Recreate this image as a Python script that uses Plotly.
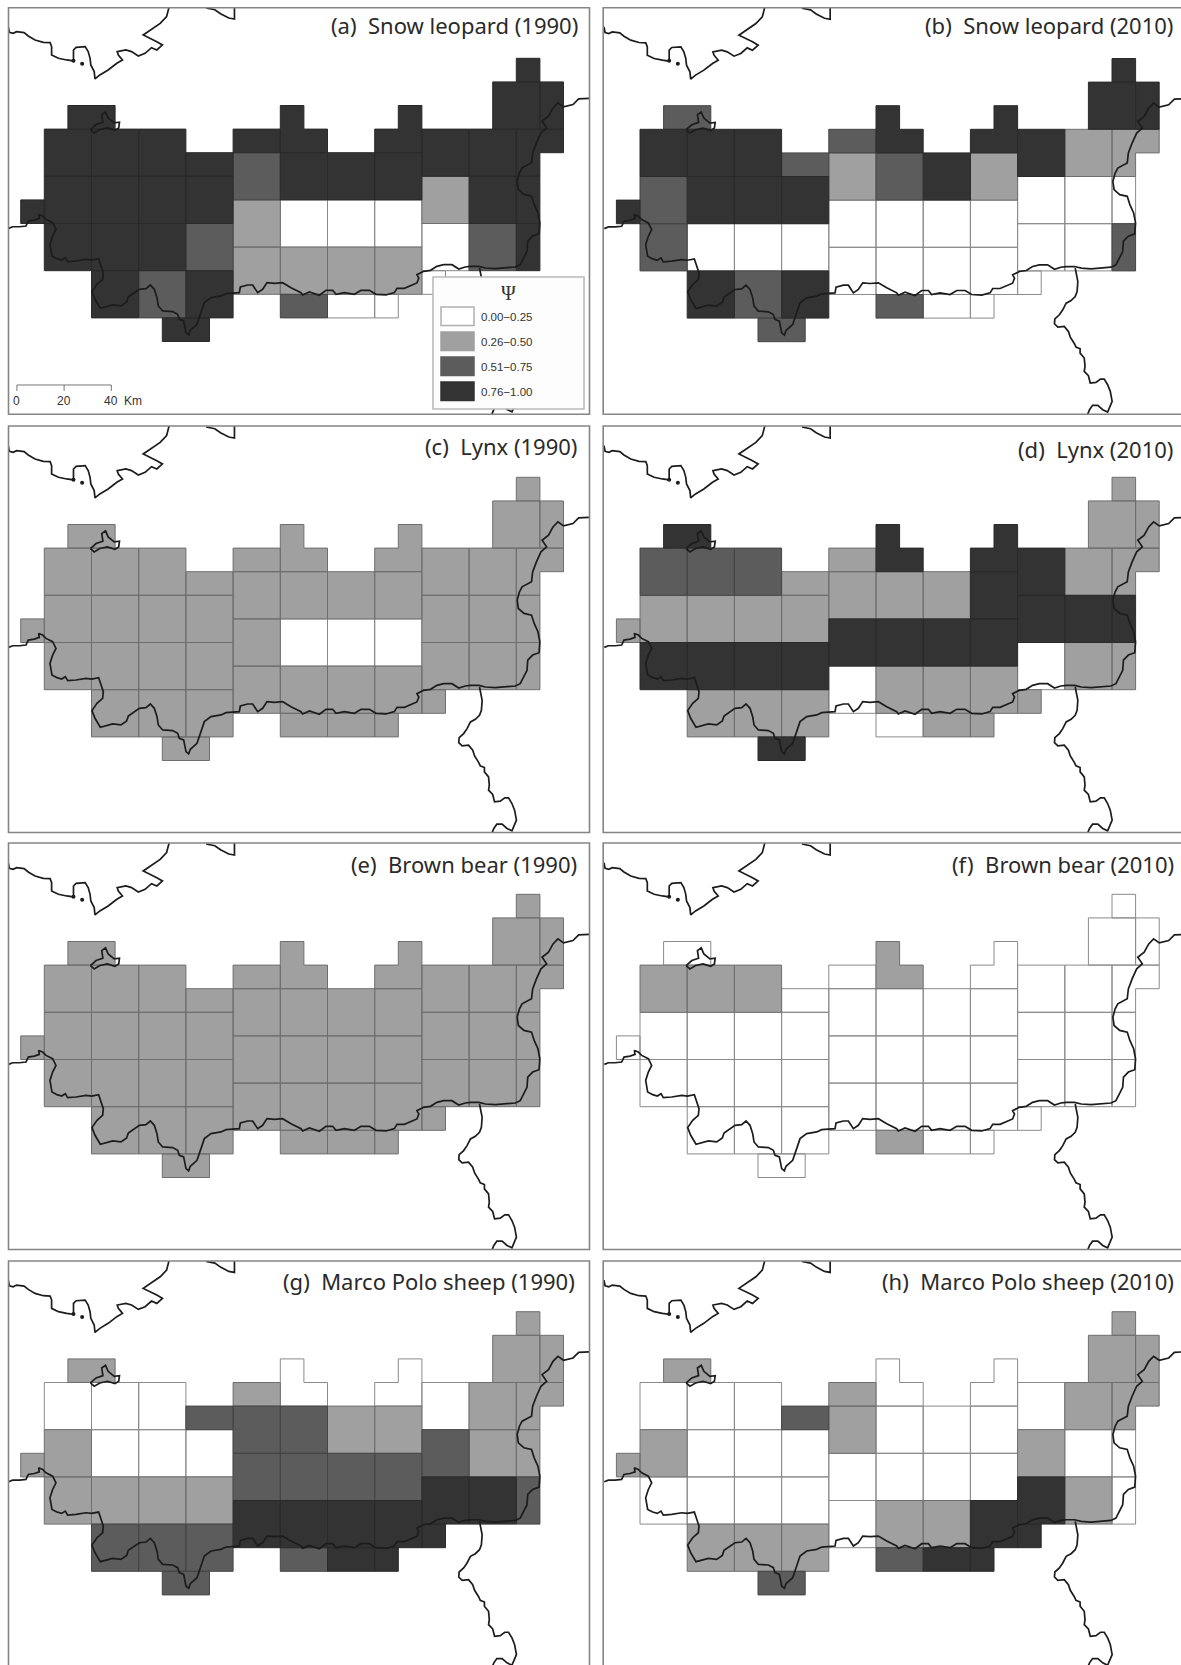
import plotly.graph_objects as go

W, H = 1181, 1665
KM_PX = 2.36

# ---- data: class of occupancy per grid cell, for every panel ----
CELL_SHAPES = [
    [(2,2),(4,2),(4,3),(2,3)],
    [(1,3),(3,3),(3,5),(1,5)], [(3,3),(5,3),(5,5),(3,5)], [(5,3),(7,3),(7,5),(5,5)], [(7,4),(9,4),(9,5),(7,5)],
    [(1,5),(3,5),(3,7),(1,7)], [(3,5),(5,5),(5,7),(3,7)], [(5,5),(7,5),(7,7),(5,7)], [(7,5),(9,5),(9,7),(7,7)],
    [(0,6),(1,6),(1,7),(0,7)],
    [(1,7),(3,7),(3,9),(1,9)], [(3,7),(5,7),(5,9),(3,9)], [(5,7),(7,7),(7,9),(5,9)], [(7,7),(9,7),(9,9),(7,9)],
    [(3,9),(5,9),(5,11),(3,11)], [(5,9),(7,9),(7,11),(5,11)], [(7,9),(9,9),(9,11),(7,11)], [(6,11),(8,11),(8,12),(6,12)],
    [(9,3),(11,3),(11,4),(9,4)],
    [(11,2),(12,2),(12,3),(13,3),(13,4),(11,4)],
    [(16,2),(17,2),(17,4),(15,4),(15,3),(16,3)],
    [(9,4),(11,4),(11,6),(9,6)], [(11,4),(13,4),(13,6),(11,6)], [(13,4),(15,4),(15,6),(13,6)], [(15,4),(17,4),(17,6),(15,6)],
    [(9,6),(11,6),(11,8),(9,8)], [(11,6),(13,6),(13,8),(11,8)], [(13,6),(15,6),(15,8),(13,8)], [(15,6),(17,6),(17,8),(15,8)],
    [(9,8),(11,8),(11,10),(9,10)], [(11,8),(13,8),(13,10),(11,10)], [(13,8),(15,8),(15,10),(13,10)], [(15,8),(17,8),(17,10),(15,10)],
    [(11,10),(13,10),(13,11),(11,11)], [(13,10),(15,10),(15,11),(13,11)], [(15,10),(16,10),(16,11),(15,11)],
    [(17,3),(19,3),(19,5),(17,5)], [(19,3),(21,3),(21,5),(19,5)],
    [(21,3),(23,3),(23,4),(22,4),(22,5),(21,5)],
    [(17,5),(19,5),(19,7),(17,7)], [(19,5),(21,5),(21,7),(19,7)], [(21,5),(22,5),(22,7),(21,7)],
    [(17,7),(19,7),(19,9),(17,9)], [(19,7),(21,7),(21,9),(19,9)], [(21,7),(22,7),(22,9),(21,9)],
    [(17,9),(18,9),(18,10),(17,10)],
    [(21,0),(22,0),(22,1),(21,1)], [(20,1),(22,1),(22,3),(20,3)], [(22,1),(23,1),(23,3),(22,3)],
]

snow_leopard_1990 = [3, 3,3,3,3, 3,3,3,3, 3, 3,3,3,2, 3,2,3,3, 3,3,3, 2,3,3,3, 1,0,0,0, 1,1,1,1, 2,0,0, 3,3,3, 1,3,3, 0,2,3, 0, 3,3,3]
snow_leopard_2010 = [2, 3,3,3,2, 2,3,3,3, 3, 2,0,0,0, 3,2,3,2, 2,3,3, 1,2,3,1, 0,0,0,0, 0,0,0,0, 2,0,0, 3,1,1, 0,0,0, 0,0,2, 0, 3,3,3]
lynx_1990 =         [1, 1,1,1,1, 1,1,1,1, 1, 1,1,1,1, 1,1,1,1, 1,1,1, 1,1,1,1, 1,0,0,0, 1,1,1,1, 1,1,1, 1,1,1, 1,1,1, 1,1,1, 1, 1,1,1]
lynx_2010 =         [3, 2,2,2,1, 1,1,1,1, 1, 3,3,3,3, 1,1,1,3, 1,3,3, 1,1,1,3, 3,3,3,3, 0,1,1,1, 0,1,1, 3,1,1, 3,3,3, 0,1,1, 1, 1,1,1]
brown_bear_1990 =   [1, 1,1,1,1, 1,1,1,1, 1, 1,1,1,1, 1,1,1,1, 1,1,1, 1,1,1,1, 1,1,1,1, 1,1,1,1, 1,1,1, 1,1,1, 1,1,1, 1,1,1, 1, 1,1,1]
brown_bear_2010 =   [0, 1,1,1,0, 0,0,0,0, 0, 0,0,0,0, 0,0,0,0, 0,1,0, 0,0,0,0, 0,0,0,0, 0,0,0,0, 1,0,0, 0,0,0, 0,0,0, 0,0,0, 0, 0,0,0]
marco_polo_1990 =   [1, 0,0,0,2, 1,0,0,0, 1, 1,1,1,1, 2,2,2,2, 1,0,0, 2,2,1,1, 2,2,2,2, 3,3,3,3, 2,3,3, 0,1,1, 2,1,1, 3,3,2, 3, 1,1,1]
marco_polo_2010 =   [1, 0,0,0,2, 1,0,0,0, 1, 0,0,0,0, 1,1,1,2, 1,0,0, 1,0,0,0, 0,0,0,0, 0,1,1,3, 2,3,3, 0,1,1, 1,0,0, 3,1,0, 3, 1,1,1]

PANEL_VALUES = [snow_leopard_1990, snow_leopard_2010, lynx_1990, lynx_2010,
                brown_bear_1990, brown_bear_2010, marco_polo_1990, marco_polo_2010]
PANEL_TITLES = ["(a)\u00a0 Snow leopard (1990)", "(b)\u00a0 Snow leopard (2010)", "(c)\u00a0 Lynx (1990)", "(d)\u00a0 Lynx (2010)",
                "(e)\u00a0 Brown bear (1990)", "(f)\u00a0 Brown bear (2010)", "(g)\u00a0 Marco Polo sheep (1990)", "(h)\u00a0 Marco Polo sheep (2010)"]
LEGEND_LABELS = ["0.00\u22120.25", "0.26\u22120.50", "0.51\u22120.75", "0.76\u22121.00"]
SCALE_KM = [0, 20, 40]

# traced border lines
SOUTH_WEST_X = [13,25,45,65,72,90,105,103,115,125,145,155,145,137,143,158,172,183,190,215,245,262,283,290,297,295,278,263,272,288,310,325,350,367,372,388,405,425,438,450,458,462,475,505,520,525,538,545,553,558,578,590,600,620,650,665,705,708,730,745,760,775,788,810,835,860,890,895,915,945,965,985,995,1020,1050,1070,1095,1115,1145,1170,1178,1200]
SOUTH_WEST_Y = [72,67,67,65,50,47,42,30,35,45,55,75,95,120,155,163,167,160,172,170,165,167,163,185,205,225,240,262,285,312,305,302,305,293,278,268,255,253,242,255,280,305,320,322,330,345,350,385,392,378,360,325,295,280,275,268,265,248,242,242,265,255,235,237,235,250,265,272,263,273,258,258,270,265,270,258,258,270,272,265,252,252]
SOUTH_EAST_X = [1104,1121,1126,1121,1139,1157,1174,1192,1214,1232,1249,1263,1285,1303,1329,1355,1382,1395,1404,1413,1415,1428,1445,1447,1442,1432,1425,1405,1390,1387,1393,1400,1425,1428,1438,1450,1465,1453,1470,1482,1495,1510,1535,1550,1590]
SOUTH_EAST_Y = [859,851,836,826,816,813,801,796,796,809,803,801,801,806,808,806,803,796,776,756,725,710,703,670,640,615,590,585,570,545,520,505,490,460,430,400,385,365,350,325,310,322,315,298,296]
BRANCH_X = [1287,1291,1294,1292,1287,1276,1263,1254,1245,1233,1232,1241,1258,1269,1274,1285,1289,1300,1300,1311,1313,1311,1322,1327,1342,1354,1364,1373,1380,1385,1378,1373,1360,1347,1333,1325,1320]
BRANCH_Y = [806,826,846,876,891,903,911,931,946,958,973,983,981,996,1013,1033,1043,1048,1061,1076,1101,1116,1129,1151,1149,1139,1139,1156,1176,1206,1226,1238,1231,1218,1218,1231,1245]
NORTH_X = [37,40,50,59,79,90,108,130,148,152,152,170,192,210,210,217,241,249,254,256,265,267,280,302,325,340,329,326,349,364,382,400,417,431,446,431,395,413,440,457,464]
NORTH_Y = [81,98,101,96,99,109,121,128,129,141,166,176,181,184,151,143,141,156,176,196,216,238,226,211,191,181,166,156,151,156,169,161,144,151,136,126,106,91,71,51,20]
NORTH2_X = [562,585,600,622,637,636,637]
NORTH2_Y = [25,30,42,55,58,35,20]
LAKE_X = [255,270,288,285,295,302,318,332,330,320,300,280,265,255]
LAKE_Y = [390,375,368,345,337,355,370,368,385,392,385,390,400,390]
ISLE_X = [210,233]
ISLE_Y = [183,192]

SOUTH_X = [26.5 + 0.8843 * v for v in SOUTH_WEST_X] + SOUTH_EAST_X
SOUTH_Y = [615 + v for v in SOUTH_WEST_Y] + SOUTH_EAST_Y

FILLS = ["#ffffff", "#a0a0a0", "#5c5c5c", "#333333"]
EDGES = ["#8a8a8a", "#6e6e6e", "#454545", "#2a2a2a"]
FRAME = "#858585"
INK = "#1c1c1c"

# frame of each panel in page pixels: left, right, top, bottom, then grid origin
PANELS = [
    (8.5, 589, 7.7, 414, 20.7, 58.3), (603.2, 1181, 7.7, 414, 616.4, 58.5),
    (8.5, 589, 426, 833, 20.7, 477.3), (603.2, 1181, 426, 833, 616.4, 477.3),
    (8.5, 589, 843, 1250, 20.7, 894.3), (603.2, 1181, 843, 1250, 616.4, 894.3),
    (8.5, 589, 1261, 1665, 20.7, 1311.7), (603.2, 1181, 1261, 1665, 616.4, 1311.7),
]
TITLE_POS = [(580, 25), (1175, 25), (579, 446), (1175, 449), (579, 864), (1176, 864), (577, 1281), (1176, 1281)]

def px(x): return x / W
def py(y): return 1 - y / H
def tx(v): return (v - 70) / 62.6 * 10
def ty(v): return -(v - 176) / 70.9 * 10

fig = go.Figure()
shapes, annos = [], []
layout_axes = {}

for i, (vals, title, box, tpos) in enumerate(zip(PANEL_VALUES, PANEL_TITLES, PANELS, TITLE_POS)):
    L, R, T, B, ox, oy = box
    n = "" if i == 0 else str(i + 1)
    layout_axes["xaxis" + n] = dict(domain=[px(L), px(R)], range=[(L - ox) / KM_PX, (R - ox) / KM_PX],
                                    visible=False, anchor="y" + n, fixedrange=True)
    layout_axes["yaxis" + n] = dict(domain=[py(B), py(T)], range=[-(B - oy) / KM_PX, -(T - oy) / KM_PX],
                                    visible=False, anchor="x" + n, fixedrange=True)
    ax = dict(xaxis="x" + n, yaxis="y" + n)
    for cls in range(4):
        xs, ys = [], []
        for shape, v in zip(CELL_SHAPES, vals):
            if v == cls:
                xs += [p[0] * 10 for p in shape] + [shape[0][0] * 10, None]
                ys += [-p[1] * 10 for p in shape] + [-shape[0][1] * 10, None]
        if xs:
            fig.add_trace(go.Scatter(x=xs, y=ys, mode="lines", fill="toself", fillcolor=FILLS[cls],
                                     line=dict(color=EDGES[cls], width=1), hoverinfo="skip", showlegend=False, **ax))
    for lx, ly in [(SOUTH_X, SOUTH_Y), (BRANCH_X, BRANCH_Y), (NORTH_X, NORTH_Y), (NORTH2_X, NORTH2_Y), (LAKE_X, LAKE_Y)]:
        fig.add_trace(go.Scatter(x=[tx(v) for v in lx], y=[ty(v) for v in ly], mode="lines",
                                 line=dict(color=INK, width=1.7), hoverinfo="skip", showlegend=False, **ax))
    fig.add_trace(go.Scatter(x=[tx(v) for v in ISLE_X], y=[ty(v) for v in ISLE_Y], mode="markers",
                             marker=dict(color=INK, size=4), hoverinfo="skip", showlegend=False, **ax))
    shapes.append(dict(type="rect", xref="paper", yref="paper", x0=px(L), x1=px(L + 581),
                       y0=py(T + 406.5), y1=py(T), line=dict(color=FRAME, width=1.6), fillcolor="rgba(0,0,0,0)", layer="above"))
    annos.append(dict(text=title, xref="paper", yref="paper", x=px(tpos[0]), y=py(tpos[1]), xanchor="right", yanchor="middle",
                      showarrow=False, font=dict(family="Noto Sans", size=22, color="#2a2a2a")))

# scale bar, panel (a)
sb0 = -1.6
sby = -(385 - 58.3) / KM_PX
sx, sy = [], []
for km in SCALE_KM:
    sx += [sb0 + km, sb0 + km, None]
    sy += [sby, sby - 6 / KM_PX, None]
sx += [sb0 + SCALE_KM[0], sb0 + SCALE_KM[-1]]
sy += [sby, sby]
fig.add_trace(go.Scatter(x=sx, y=sy, mode="lines", line=dict(color="#777777", width=1), hoverinfo="skip",
                         showlegend=False, xaxis="x", yaxis="y"))
for km, lab in zip(SCALE_KM, ["0", "20", "40"]):
    annos.append(dict(text=lab, xref="x", yref="y", x=sb0 + km, y=-(401 - 58.3) / KM_PX, yanchor="middle", showarrow=False,
                      font=dict(family="Liberation Sans", size=12, color="#333333")))
annos.append(dict(text="Km", xref="paper", yref="paper", x=px(122), y=py(401), xanchor="left", yanchor="middle", showarrow=False,
                  font=dict(family="Liberation Sans", size=12, color="#333333")))

# legend box, panel (a)
shapes.append(dict(type="rect", xref="paper", yref="paper", x0=px(433), x1=px(584), y0=py(409), y1=py(277),
                   fillcolor="#fdfdfd", line=dict(color="#bbbbbb", width=1.6), layer="above"))
annos.append(dict(text="\u03a8", xref="paper", yref="paper", x=px(508), y=py(293), yanchor="middle", showarrow=False,
                  font=dict(family="Liberation Serif", size=20, color="#333333")))
for cls, (lab, y0) in enumerate(zip(LEGEND_LABELS, [307, 332, 357, 382])):
    shapes.append(dict(type="rect", xref="paper", yref="paper", x0=px(441), x1=px(474), y0=py(y0 + 18.5), y1=py(y0),
                       fillcolor=FILLS[cls], line=dict(color="#b0b0b0" if cls == 0 else FILLS[cls], width=1.5), layer="above"))
    annos.append(dict(text=lab, xref="paper", yref="paper", x=px(479), y=py(y0 + 9.5), xanchor="left", yanchor="middle", showarrow=False,
                      font=dict(family="Liberation Sans", size=11.5, color="#333333")))

fig.update_layout(width=W, height=H, margin=dict(l=0, r=0, t=0, b=0), paper_bgcolor="white", plot_bgcolor="white",
                  shapes=shapes, annotations=annos, showlegend=False, **layout_axes)
fig.write_html("out.html", post_script="document.body.style.margin='0';document.body.style.overflow='hidden';",
               config=dict(displayModeBar=False))
